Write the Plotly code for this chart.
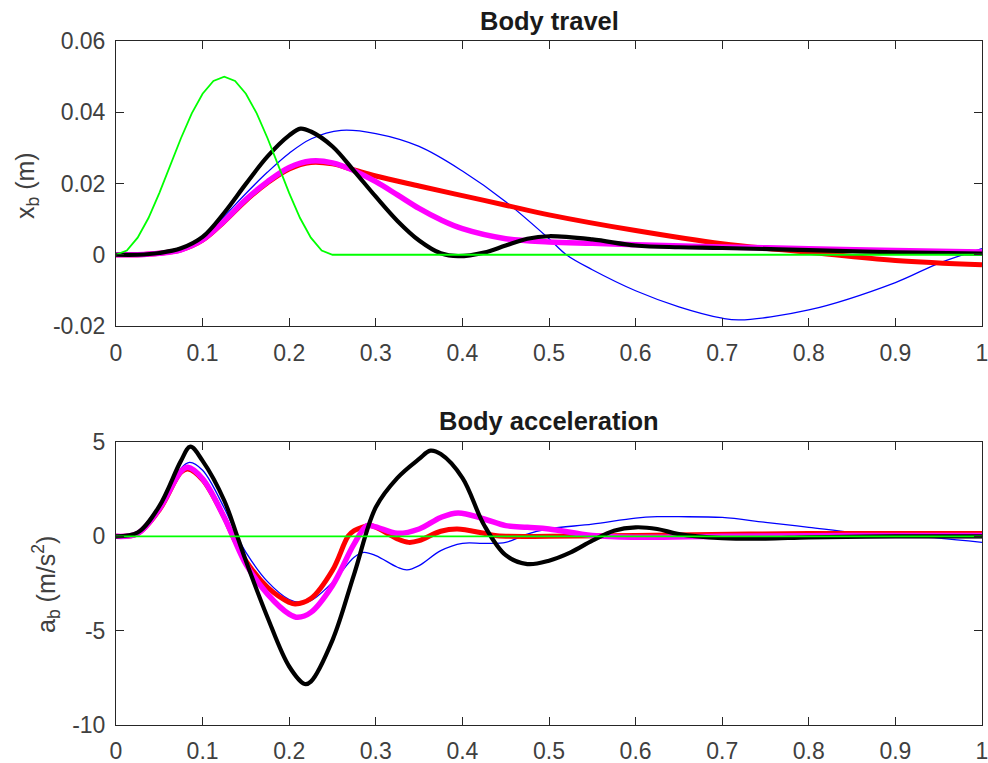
import plotly.graph_objects as go

# ---------------- Body travel (top) ----------------
t_green_top = [0, 0.0125, 0.025, 0.0375, 0.05, 0.0625, 0.075, 0.0875, 0.1, 0.1125, 0.125,
               0.1375, 0.15, 0.1625, 0.175, 0.1875, 0.2, 0.2125, 0.225, 0.2375, 0.25, 1.0]
x_green_top = [0, 0.0012, 0.0048, 0.0103, 0.0173, 0.025, 0.0327, 0.0397, 0.0452, 0.0488, 0.05,
               0.0488, 0.0452, 0.0397, 0.0327, 0.025, 0.0173, 0.0103, 0.0048, 0.0012, 0, 0]

t_black_top = [0, 0.025, 0.05, 0.075, 0.1, 0.125, 0.15, 0.175, 0.2, 0.213, 0.225, 0.25, 0.275,
               0.3, 0.325, 0.35, 0.375, 0.395, 0.425, 0.45, 0.475, 0.5, 0.55, 0.6, 0.65, 0.7,
               0.8, 0.9, 1.0]
x_black_top = [0, 0.0, 0.0005, 0.0018, 0.005, 0.0118, 0.0199, 0.0276, 0.0335, 0.0354, 0.0346,
               0.0304, 0.0235, 0.0163, 0.0095, 0.004, 0.0004, -0.0004, 0.0006, 0.0026, 0.0045,
               0.0052, 0.0043, 0.0026, 0.0021, 0.0019, 0.0013, 0.0007, 0.0003]

t_mag_top = [0, 0.025, 0.05, 0.075, 0.1, 0.125, 0.15, 0.175, 0.2, 0.225, 0.25, 0.275, 0.3,
             0.325, 0.35, 0.375, 0.4, 0.45, 0.5, 0.55, 0.6, 0.7, 0.8, 0.9, 1.0]
x_mag_top = [0, 0.0, 0.0004, 0.0014, 0.0042, 0.0095, 0.0155, 0.0205, 0.0245, 0.0263, 0.0258,
             0.0236, 0.0205, 0.0168, 0.013, 0.0098, 0.0073, 0.0045, 0.0036, 0.0032, 0.0028,
             0.0022, 0.0017, 0.0012, 0.0008]

t_red_top = [0, 0.025, 0.05, 0.075, 0.1, 0.125, 0.15, 0.175, 0.2, 0.225, 0.25, 0.275, 0.3,
             0.35, 0.4, 0.45, 0.5, 0.6, 0.7, 0.8, 0.9, 1.0]
x_red_top = [0, 0.0, 0.0004, 0.0014, 0.0041, 0.0093, 0.0152, 0.0202, 0.0241, 0.0259, 0.0255,
             0.0238, 0.0221, 0.0193, 0.0166, 0.0139, 0.0112, 0.0068, 0.0031, 0.0007, -0.0016,
             -0.0028]

t_blue_top = [0, 0.025, 0.05, 0.075, 0.1, 0.125, 0.15, 0.175, 0.2, 0.225, 0.26, 0.3, 0.35,
              0.4, 0.45, 0.5, 0.52, 0.55, 0.6, 0.65, 0.7, 0.72, 0.8, 0.9, 0.95, 1.0]
x_blue_top = [0, 0.0, 0.0004, 0.0016, 0.0048, 0.0108, 0.0172, 0.0232, 0.0285, 0.0325, 0.0349,
              0.034, 0.0304, 0.0235, 0.0149, 0.0045, 0.0, -0.0042, -0.0101, -0.0146, -0.0178,
              -0.0183, -0.0155, -0.0078, -0.0024, 0.0017]

# ---------------- Body acceleration (bottom) ----------------
t_black_bot = [0, 0.025, 0.05, 0.075, 0.0858, 0.1, 0.125, 0.14, 0.15, 0.175, 0.2, 0.218, 0.225,
               0.25, 0.275, 0.3, 0.325, 0.35, 0.363, 0.375, 0.4, 0.425, 0.45, 0.475, 0.5, 0.525,
               0.55, 0.575, 0.6, 0.625, 0.65, 0.7, 0.75, 0.8, 0.9, 1.0]
a_black_bot = [0, 0.2, 1.6, 4.0, 4.75, 4.0, 1.9, 0.0, -1.3, -4.3, -6.9, -7.83, -7.7, -5.5, -2.0,
               1.54, 3.1, 4.1, 4.54, 4.36, 3.1, 0.6, -1.0, -1.47, -1.29, -0.85, -0.23, 0.3,
               0.48, 0.39, 0.12, -0.09, -0.12, -0.05, 0.0, 0.0]

t_mag_bot = [0, 0.025, 0.05, 0.075, 0.083, 0.1, 0.125, 0.135, 0.15, 0.175, 0.2, 0.21, 0.225,
             0.25, 0.275, 0.29, 0.3, 0.325, 0.35, 0.375, 0.395, 0.425, 0.45, 0.475, 0.5, 0.55,
             0.6, 0.7, 0.8, 0.9, 1.0]
a_mag_bot = [0, 0.15, 1.45, 3.45, 3.66, 3.05, 1.0, 0.0, -1.47, -3.06, -4.12, -4.29, -4.03,
             -2.6, -0.4, 0.57, 0.5, 0.16, 0.39, 1.0, 1.24, 0.92, 0.57, 0.48, 0.39, 0.04,
             -0.05, 0.0, 0.03, 0.05, 0.05]

t_red_bot = [0, 0.025, 0.05, 0.075, 0.083, 0.1, 0.125, 0.135, 0.15, 0.175, 0.2, 0.207, 0.225,
             0.25, 0.268, 0.275, 0.293, 0.3, 0.325, 0.338, 0.35, 0.375, 0.394, 0.425, 0.44,
             0.5, 0.6, 0.8, 1.0]
a_red_bot = [0, 0.15, 1.4, 3.4, 3.57, 3.0, 1.0, 0.0, -1.3, -2.7, -3.5, -3.59, -3.3, -1.8, 0.0,
             0.3, 0.57, 0.48, -0.14, -0.32, -0.23, 0.27, 0.39, 0.16, 0.03, 0.0, 0.05, 0.15, 0.15]

t_blue_bot = [0, 0.025, 0.05, 0.075, 0.085, 0.1, 0.125, 0.14, 0.15, 0.175, 0.2, 0.213, 0.225,
              0.25, 0.275, 0.286, 0.3, 0.325, 0.336, 0.35, 0.375, 0.4, 0.425, 0.45, 0.475, 0.5,
              0.55, 0.6, 0.625, 0.65, 0.7, 0.75, 0.8, 0.85, 0.9, 0.95, 1.0]
a_blue_bot = [0, 0.15, 1.5, 3.6, 3.92, 3.5, 1.5, 0.0, -0.85, -2.4, -3.35, -3.5, -3.41, -2.44,
              -1.11, -0.85, -1.02, -1.64, -1.78, -1.55, -0.76, -0.37, -0.37, -0.32, 0.12, 0.39,
              0.65, 0.97, 1.04, 1.04, 1.0, 0.74, 0.48, 0.21, 0.04, -0.09, -0.32]

t_green_bot = [0, 1.0]
a_green_bot = [0, 0]

x_tick_vals = [0, 0.1, 0.2, 0.3, 0.4, 0.5, 0.6, 0.7, 0.8, 0.9, 1.0]
x_tick_text = ["0", "0.1", "0.2", "0.3", "0.4", "0.5", "0.6", "0.7", "0.8", "0.9", "1"]
y1_tick_vals = [-0.02, 0, 0.02, 0.04, 0.06]
y1_tick_text = ["-0.02", "0", "0.02", "0.04", "0.06"]
y2_tick_vals = [-10, -5, 0, 5]
y2_tick_text = ["-10", "-5", "0", "5"]

BLUE, RED, MAG, BLACK, GREEN = "#0000FF", "#FF0000", "#FF00FF", "#000000", "#00FF00"
FONT = "Liberation Sans, Arial, Helvetica, sans-serif"
AX = "#262626"
TXT = "#404040"

fig = go.Figure()

def add(t, v, color, width, ax, shape="spline"):
    fig.add_trace(go.Scatter(x=t, y=v, mode="lines", xaxis=ax[0], yaxis=ax[1],
                             line=dict(color=color, width=width, shape=shape,
                                       smoothing=1.0 if shape == "spline" else None),
                             showlegend=False, hoverinfo="skip"))

top = ("x", "y")
bot = ("x2", "y2")
add(t_blue_top, x_blue_top, BLUE, 1.3, top)
add(t_red_top, x_red_top, RED, 5, top)
add(t_mag_top, x_mag_top, MAG, 5.5, top)
add(t_black_top, x_black_top, BLACK, 4.2, top)
add(t_green_top, x_green_top, GREEN, 1.8, top, shape="linear")

add(t_blue_bot, a_blue_bot, BLUE, 1.3, bot)
add(t_red_bot, a_red_bot, RED, 5, bot)
add(t_mag_bot, a_mag_bot, MAG, 5.5, bot)
add(t_black_bot, a_black_bot, BLACK, 4.2, bot)
add(t_green_bot, a_green_bot, GREEN, 1.8, bot, shape="linear")

W, H = 988, 763
xdom = [116 / W, 982 / W]
y1dom = [1 - 326 / H, 1 - 41 / H]
y2dom = [1 - 725 / H, 1 - 442 / H]

axis_common = dict(showline=True, linecolor=AX, linewidth=1, mirror="ticks",
                   ticks="inside", ticklen=8, tickcolor=AX, tickwidth=1,
                   showgrid=False, zeroline=False, automargin=False,
                   ticklabeloverflow="allow",
                   tickfont=dict(family=FONT, size=23, color=TXT))

def title_ann(text, x, y):
    return dict(text=text, x=x / W, y=1 - y / H, xref="paper", yref="paper",
                showarrow=False, xanchor="center", yanchor="middle",
                font=dict(family=FONT, size=25.5, color="#1a1a1a"))

def ylab_ann(text, x, y):
    return dict(text=text, x=x / W, y=1 - y / H, xref="paper", yref="paper",
                showarrow=False, xanchor="center", yanchor="middle", textangle=-90,
                font=dict(family=FONT, size=25, color=TXT))

fig.update_layout(
    width=W, height=H,
    margin=dict(l=0, r=0, t=0, b=0, autoexpand=False),
    paper_bgcolor="white", plot_bgcolor="white",
    xaxis=dict(domain=xdom, anchor="y", range=[0, 1], tickvals=x_tick_vals,
               ticktext=x_tick_text, ticklabelstandoff=6, **axis_common),
    yaxis=dict(domain=y1dom, anchor="x", range=[-0.02, 0.06], tickvals=y1_tick_vals,
               ticktext=y1_tick_text, ticklabelstandoff=5, **axis_common),
    xaxis2=dict(domain=xdom, anchor="y2", range=[0, 1], tickvals=x_tick_vals,
                ticktext=x_tick_text, ticklabelstandoff=5, **axis_common),
    yaxis2=dict(domain=y2dom, anchor="x2", range=[-10, 5], tickvals=y2_tick_vals,
                ticktext=y2_tick_text, ticklabelstandoff=5, **axis_common),
    annotations=[
        title_ann("<b>Body travel</b>", 549, 21),
        title_ann("<b>Body acceleration</b>", 549, 421),
        ylab_ann("x<sub>b</sub> (m)", 27, 186),
        ylab_ann("a<sub>b</sub> (m/s<sup>2</sup>)", 46, 585),
    ],
)

fig.write_html("out.html", config={"displayModeBar": False},
               post_script="document.body.style.margin='0';document.body.style.overflow='hidden';")
